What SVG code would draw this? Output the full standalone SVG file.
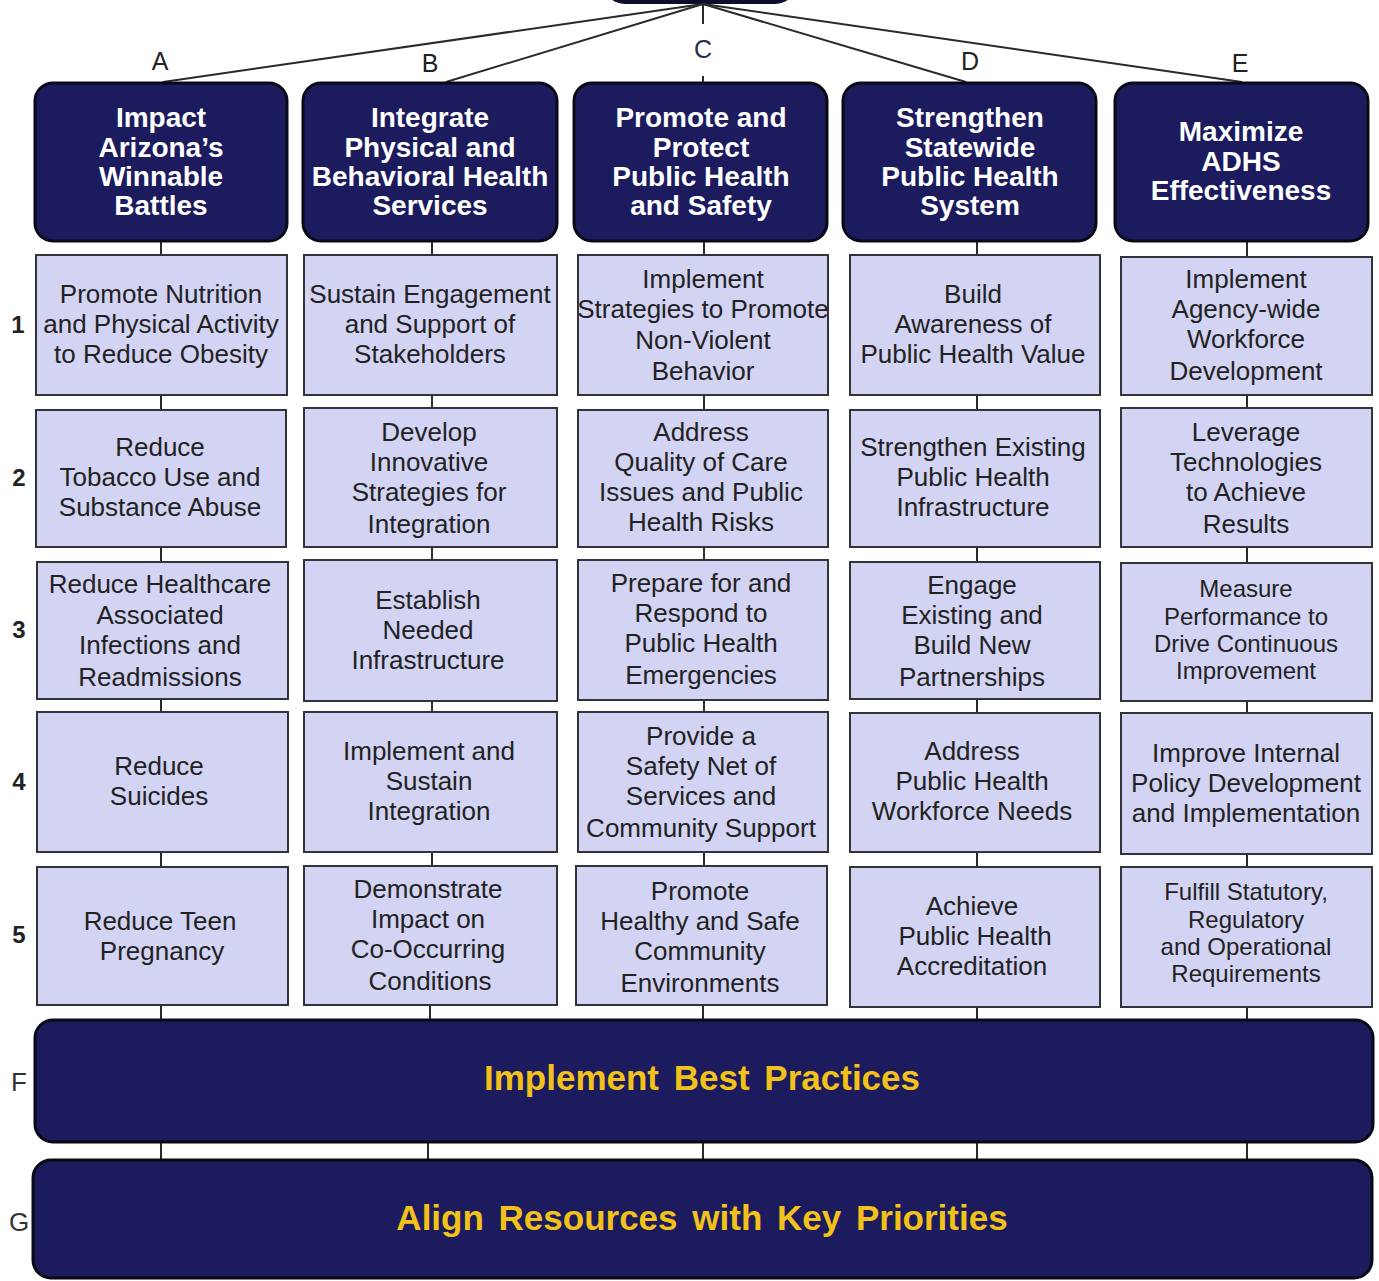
<svg xmlns="http://www.w3.org/2000/svg" width="1379" height="1281" viewBox="0 0 1379 1281">
  <style>
    .goal { fill: #1b1b5e; stroke: #0a0a14; stroke-width: 3; }
    .obj { fill: #d3d3f4; stroke: #33333c; stroke-width: 2; }
    .bar { fill: #1b1b5e; stroke: #0a0a14; stroke-width: 3; }
    .gt { font-family: "Liberation Sans", Arial, sans-serif; font-weight: bold; font-size: 28px; fill: #ffffff; text-anchor: middle; }
    .ot { font-family: "Liberation Sans", Arial, sans-serif; font-size: 26px; fill: #222222; text-anchor: middle; }
    .ot.tight { font-size: 24px; }
    .bt { font-family: "Liberation Sans", Arial, sans-serif; font-weight: bold; font-size: 35px; fill: #f2c21a; text-anchor: middle; word-spacing: 5px; }
    .col { font-family: "Liberation Sans", Arial, sans-serif; font-size: 25px; fill: #222222; text-anchor: middle; }
    .row { font-family: "Liberation Sans", Arial, sans-serif; font-weight: bold; font-size: 24px; fill: #222222; text-anchor: middle; }
    .lvl { font-family: "Liberation Sans", Arial, sans-serif; font-size: 26px; fill: #333333; text-anchor: middle; }
    .ln { stroke: #2a2a2a; stroke-width: 2; fill: none; }
  </style>

  <!-- parent node, mostly above the visible area -->
  <g id="root">
    <rect x="603" y="-44" width="194" height="48" rx="22" fill="#0d0d30"/>
  </g>

  <!-- connectors -->
  <g id="connectors" class="ln">
    <line x1="703" y1="4" x2="163" y2="82"/>
    <line x1="703" y1="4" x2="446" y2="82"/>
    <line x1="703" y1="4" x2="703" y2="24"/>
    <line x1="703" y1="76" x2="703" y2="83"/>
    <line x1="703" y1="4" x2="966" y2="82"/>
    <line x1="703" y1="4" x2="1242" y2="82"/>
    <!-- column A -->
    <line x1="161" y1="241" x2="161" y2="255"/>
    <line x1="161" y1="395" x2="161" y2="410"/>
    <line x1="161" y1="547" x2="161" y2="562"/>
    <line x1="161" y1="699" x2="161" y2="712"/>
    <line x1="161" y1="852" x2="161" y2="867"/>
    <line x1="161" y1="1005" x2="161" y2="1020"/>
    <line x1="161" y1="1142" x2="161" y2="1160"/>
    <!-- column B -->
    <line x1="432" y1="241" x2="432" y2="255"/>
    <line x1="432" y1="395" x2="432" y2="408"/>
    <line x1="432" y1="547" x2="432" y2="560"/>
    <line x1="432" y1="701" x2="432" y2="712"/>
    <line x1="432" y1="852" x2="432" y2="866"/>
    <line x1="430" y1="1005" x2="430" y2="1020"/>
    <line x1="428" y1="1142" x2="428" y2="1160"/>
    <!-- column C -->
    <line x1="704" y1="241" x2="704" y2="255"/>
    <line x1="704" y1="395" x2="704" y2="410"/>
    <line x1="704" y1="547" x2="704" y2="560"/>
    <line x1="704" y1="700" x2="704" y2="712"/>
    <line x1="704" y1="852" x2="704" y2="866"/>
    <line x1="703" y1="1005" x2="703" y2="1020"/>
    <line x1="703" y1="1142" x2="703" y2="1160"/>
    <!-- column D -->
    <line x1="977" y1="241" x2="977" y2="255"/>
    <line x1="977" y1="395" x2="977" y2="410"/>
    <line x1="977" y1="547" x2="977" y2="562"/>
    <line x1="977" y1="699" x2="977" y2="713"/>
    <line x1="977" y1="852" x2="977" y2="867"/>
    <line x1="977" y1="1007" x2="977" y2="1020"/>
    <line x1="977" y1="1142" x2="977" y2="1160"/>
    <!-- column E -->
    <line x1="1247" y1="241" x2="1247" y2="257"/>
    <line x1="1247" y1="395" x2="1247" y2="408"/>
    <line x1="1247" y1="547" x2="1247" y2="563"/>
    <line x1="1247" y1="701" x2="1247" y2="713"/>
    <line x1="1247" y1="854" x2="1247" y2="867"/>
    <line x1="1247" y1="1007" x2="1247" y2="1020"/>
    <line x1="1247" y1="1142" x2="1247" y2="1160"/>
  </g>

  <!-- column letters -->
  <g id="column-labels">
    <text class="col" x="160" y="70">A</text>
    <text class="col" x="430" y="72">B</text>
    <text class="col" x="703" y="58" style="fill:#26304a">C</text>
    <text class="col" x="970" y="70">D</text>
    <text class="col" x="1240" y="72">E</text>
  </g>

  <!-- row numbers -->
  <g id="row-labels">
    <text class="row" x="18" y="333">1</text>
    <text class="row" x="19" y="486">2</text>
    <text class="row" x="19" y="638">3</text>
    <text class="row" x="19" y="790">4</text>
    <text class="row" x="19" y="943">5</text>
    <text class="lvl" x="19" y="1091">F</text>
    <text class="lvl" x="19" y="1231">G</text>
  </g>

  <!-- goal headers -->
  <g id="goal-a">
    <rect class="goal" x="35" y="83" width="252" height="158" rx="18"/>
    <text class="gt" x="161"><tspan x="161" y="127">Impact</tspan><tspan x="161" y="157">Arizona’s</tspan><tspan x="161" y="186">Winnable</tspan><tspan x="161" y="215">Battles</tspan></text>
  </g>
  <g id="goal-b">
    <rect class="goal" x="303" y="83" width="254" height="158" rx="18"/>
    <text class="gt" x="430"><tspan x="430" y="127">Integrate</tspan><tspan x="430" y="157">Physical and</tspan><tspan x="430" y="186">Behavioral Health</tspan><tspan x="430" y="215">Services</tspan></text>
  </g>
  <g id="goal-c">
    <rect class="goal" x="574" y="83" width="253" height="158" rx="18"/>
    <text class="gt" x="701"><tspan x="701" y="127">Promote and</tspan><tspan x="701" y="157">Protect</tspan><tspan x="701" y="186">Public Health</tspan><tspan x="701" y="215">and Safety</tspan></text>
  </g>
  <g id="goal-d">
    <rect class="goal" x="843" y="83" width="253" height="158" rx="18"/>
    <text class="gt" x="970"><tspan x="970" y="127">Strengthen</tspan><tspan x="970" y="157">Statewide</tspan><tspan x="970" y="186">Public Health</tspan><tspan x="970" y="215">System</tspan></text>
  </g>
  <g id="goal-e">
    <rect class="goal" x="1115" y="83" width="253" height="158" rx="18"/>
    <text class="gt" x="1241"><tspan x="1241" y="141">Maximize</tspan><tspan x="1241" y="171">ADHS</tspan><tspan x="1241" y="200">Effectiveness</tspan></text>
  </g>

  <!-- row 1 -->
  <g id="a1">
    <rect class="obj" x="36" y="255" width="251" height="140"/>
    <text class="ot"><tspan x="161" y="303">Promote Nutrition</tspan><tspan x="161" y="333">and Physical Activity</tspan><tspan x="161" y="363">to Reduce Obesity</tspan></text>
  </g>
  <g id="b1">
    <rect class="obj" x="304" y="255" width="253" height="140"/>
    <text class="ot"><tspan x="430" y="303">Sustain Engagement</tspan><tspan x="430" y="333">and Support of</tspan><tspan x="430" y="363">Stakeholders</tspan></text>
  </g>
  <g id="c1">
    <rect class="obj" x="578" y="255" width="250" height="140"/>
    <text class="ot"><tspan x="703" y="288">Implement</tspan><tspan x="703" y="318">Strategies to Promote</tspan><tspan x="703" y="349">Non-Violent</tspan><tspan x="703" y="380">Behavior</tspan></text>
  </g>
  <g id="d1">
    <rect class="obj" x="850" y="255" width="250" height="140"/>
    <text class="ot"><tspan x="973" y="303">Build</tspan><tspan x="973" y="333">Awareness of</tspan><tspan x="973" y="363">Public Health Value</tspan></text>
  </g>
  <g id="e1">
    <rect class="obj" x="1121" y="257" width="251" height="138"/>
    <text class="ot"><tspan x="1246" y="288">Implement</tspan><tspan x="1246" y="318">Agency-wide</tspan><tspan x="1246" y="348">Workforce</tspan><tspan x="1246" y="380">Development</tspan></text>
  </g>

  <!-- row 2 -->
  <g id="a2">
    <rect class="obj" x="36" y="410" width="250" height="137"/>
    <text class="ot"><tspan x="160" y="456">Reduce</tspan><tspan x="160" y="486">Tobacco Use and</tspan><tspan x="160" y="516">Substance Abuse</tspan></text>
  </g>
  <g id="b2">
    <rect class="obj" x="304" y="408" width="253" height="139"/>
    <text class="ot"><tspan x="429" y="441">Develop</tspan><tspan x="429" y="471">Innovative</tspan><tspan x="429" y="501">Strategies for</tspan><tspan x="429" y="533">Integration</tspan></text>
  </g>
  <g id="c2">
    <rect class="obj" x="578" y="410" width="250" height="137"/>
    <text class="ot"><tspan x="701" y="441">Address</tspan><tspan x="701" y="471">Quality of Care</tspan><tspan x="701" y="501">Issues and Public</tspan><tspan x="701" y="531">Health Risks</tspan></text>
  </g>
  <g id="d2">
    <rect class="obj" x="850" y="410" width="250" height="137"/>
    <text class="ot"><tspan x="973" y="456">Strengthen Existing</tspan><tspan x="973" y="486">Public Health</tspan><tspan x="973" y="516">Infrastructure</tspan></text>
  </g>
  <g id="e2">
    <rect class="obj" x="1121" y="408" width="251" height="139"/>
    <text class="ot"><tspan x="1246" y="441">Leverage</tspan><tspan x="1246" y="471">Technologies</tspan><tspan x="1246" y="501">to Achieve</tspan><tspan x="1246" y="533">Results</tspan></text>
  </g>

  <!-- row 3 -->
  <g id="a3">
    <rect class="obj" x="37" y="562" width="251" height="137"/>
    <text class="ot"><tspan x="160" y="593">Reduce Healthcare</tspan><tspan x="160" y="624">Associated</tspan><tspan x="160" y="654">Infections and</tspan><tspan x="160" y="686">Readmissions</tspan></text>
  </g>
  <g id="b3">
    <rect class="obj" x="304" y="560" width="253" height="141"/>
    <text class="ot"><tspan x="428" y="609">Establish</tspan><tspan x="428" y="639">Needed</tspan><tspan x="428" y="669">Infrastructure</tspan></text>
  </g>
  <g id="c3">
    <rect class="obj" x="578" y="560" width="250" height="140"/>
    <text class="ot"><tspan x="701" y="592">Prepare for and</tspan><tspan x="701" y="622">Respond to</tspan><tspan x="701" y="652">Public Health</tspan><tspan x="701" y="684">Emergencies</tspan></text>
  </g>
  <g id="d3">
    <rect class="obj" x="850" y="562" width="250" height="137"/>
    <text class="ot"><tspan x="972" y="594">Engage</tspan><tspan x="972" y="624">Existing and</tspan><tspan x="972" y="654">Build New</tspan><tspan x="972" y="686">Partnerships</tspan></text>
  </g>
  <g id="e3">
    <rect class="obj" x="1121" y="563" width="251" height="138"/>
    <text class="ot tight"><tspan x="1246" y="597">Measure</tspan><tspan x="1246" y="625">Performance to</tspan><tspan x="1246" y="652">Drive Continuous</tspan><tspan x="1246" y="679">Improvement</tspan></text>
  </g>

  <!-- row 4 -->
  <g id="a4">
    <rect class="obj" x="37" y="712" width="251" height="140"/>
    <text class="ot"><tspan x="159" y="775">Reduce</tspan><tspan x="159" y="805">Suicides</tspan></text>
  </g>
  <g id="b4">
    <rect class="obj" x="304" y="712" width="253" height="140"/>
    <text class="ot"><tspan x="429" y="760">Implement and</tspan><tspan x="429" y="790">Sustain</tspan><tspan x="429" y="820">Integration</tspan></text>
  </g>
  <g id="c4">
    <rect class="obj" x="578" y="712" width="250" height="140"/>
    <text class="ot"><tspan x="701" y="745">Provide a</tspan><tspan x="701" y="775">Safety Net of</tspan><tspan x="701" y="805">Services and</tspan><tspan x="701" y="837">Community Support</tspan></text>
  </g>
  <g id="d4">
    <rect class="obj" x="850" y="713" width="250" height="139"/>
    <text class="ot"><tspan x="972" y="760">Address</tspan><tspan x="972" y="790">Public Health</tspan><tspan x="972" y="820">Workforce Needs</tspan></text>
  </g>
  <g id="e4">
    <rect class="obj" x="1121" y="713" width="251" height="141"/>
    <text class="ot"><tspan x="1246" y="762">Improve Internal</tspan><tspan x="1246" y="792">Policy Development</tspan><tspan x="1246" y="822">and Implementation</tspan></text>
  </g>

  <!-- row 5 -->
  <g id="a5">
    <rect class="obj" x="37" y="867" width="251" height="138"/>
    <text class="ot"><tspan x="160" y="930">Reduce Teen</tspan><tspan x="162" y="960">Pregnancy</tspan></text>
  </g>
  <g id="b5">
    <rect class="obj" x="304" y="866" width="253" height="139"/>
    <text class="ot"><tspan x="428" y="898">Demonstrate</tspan><tspan x="428" y="928">Impact on</tspan><tspan x="428" y="958">Co-Occurring</tspan><tspan x="430" y="990">Conditions</tspan></text>
  </g>
  <g id="c5">
    <rect class="obj" x="576" y="866" width="251" height="139"/>
    <text class="ot"><tspan x="700" y="900">Promote</tspan><tspan x="700" y="930">Healthy and Safe</tspan><tspan x="700" y="960">Community</tspan><tspan x="700" y="992">Environments</tspan></text>
  </g>
  <g id="d5">
    <rect class="obj" x="850" y="867" width="250" height="140"/>
    <text class="ot"><tspan x="972" y="915">Achieve</tspan><tspan x="975" y="945">Public Health</tspan><tspan x="972" y="975">Accreditation</tspan></text>
  </g>
  <g id="e5">
    <rect class="obj" x="1121" y="867" width="251" height="140"/>
    <text class="ot tight"><tspan x="1246" y="900">Fulfill Statutory,</tspan><tspan x="1246" y="928">Regulatory</tspan><tspan x="1246" y="955">and Operational</tspan><tspan x="1246" y="982">Requirements</tspan></text>
  </g>

  <!-- cross-cutting bars -->
  <g id="bar-f">
    <rect class="bar" x="35" y="1020" width="1338" height="122" rx="18"/>
    <text class="bt" x="702" y="1090">Implement  Best Practices</text>
  </g>
  <g id="bar-g">
    <rect class="bar" x="33" y="1160" width="1339" height="118" rx="18"/>
    <text class="bt" x="702" y="1230">Align Resources with Key Priorities</text>
  </g>
</svg>
